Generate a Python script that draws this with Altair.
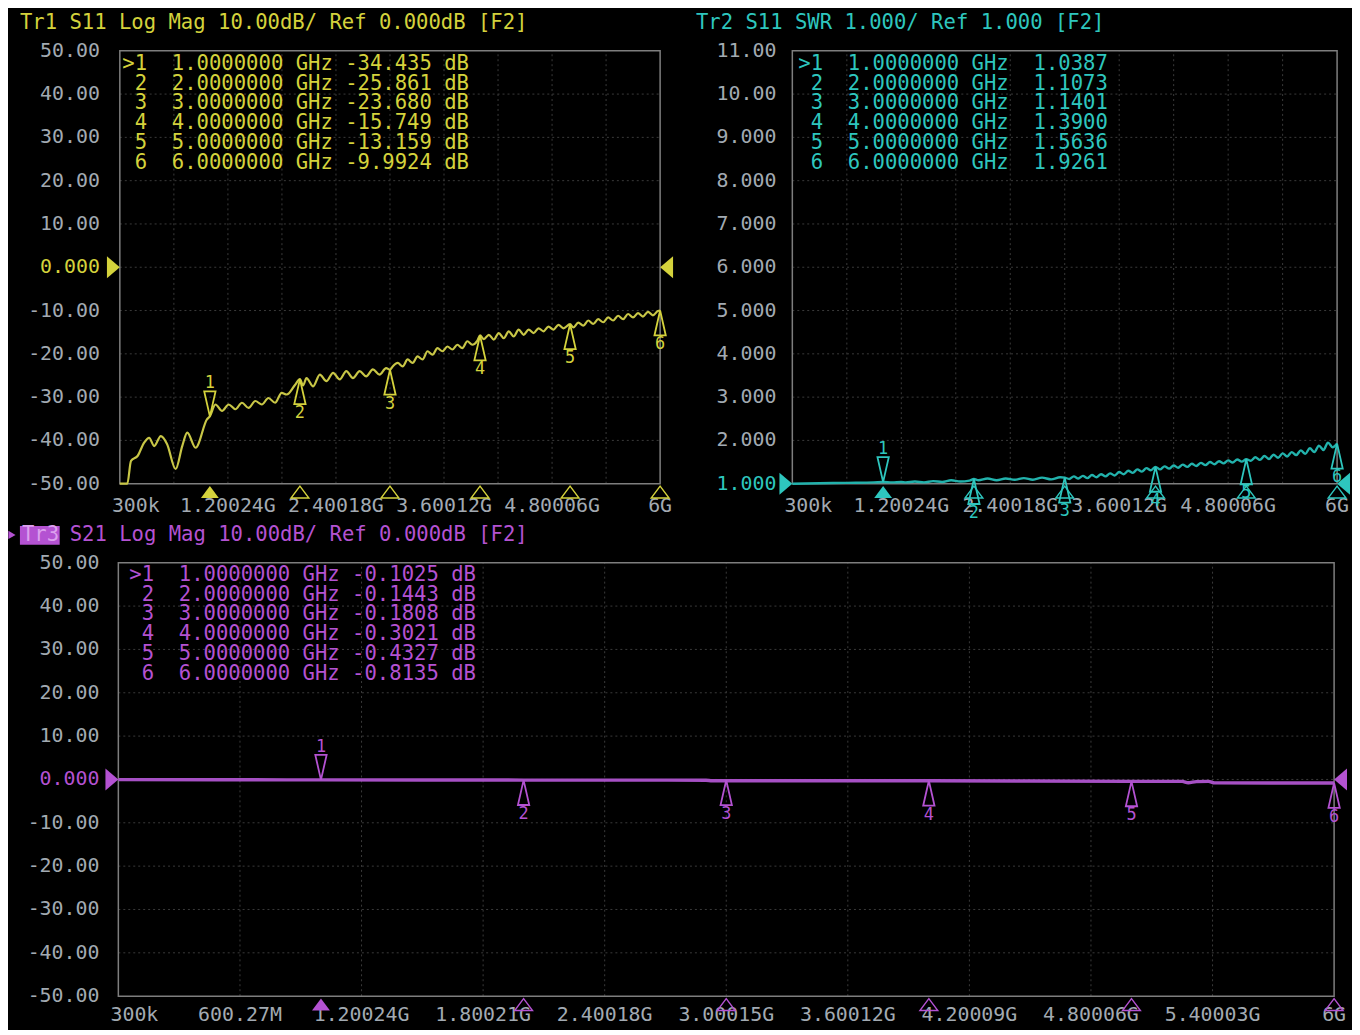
import altair as alt
import pandas as pd

# ---------------- data ----------------
# Tr1: S11 Log Mag trace (GHz, dB)
s11_freq_ghz = [0.0003, 0.083, 0.124, 0.197, 0.270, 0.326, 0.381, 0.455, 0.524, 0.620, 0.693, 0.749, 0.841, 0.969, 1.000,
                1.062, 1.135, 1.209, 1.283, 1.356, 1.430, 1.504, 1.577, 1.650, 1.724, 1.797, 1.853, 1.945, 2.000,
                2.035, 2.073, 2.147, 2.221, 2.294, 2.368, 2.442, 2.515, 2.589, 2.663, 2.736, 2.810, 2.884, 2.957, 3.000,
                3.030, 3.086, 3.141, 3.196, 3.251, 3.306, 3.362, 3.417, 3.472, 3.527, 3.583, 3.638, 3.693, 3.748, 3.803, 3.859, 3.914, 3.969, 4.000,
                4.043, 4.098, 4.153, 4.208, 4.264, 4.319, 4.374, 4.429, 4.485, 4.540, 4.595, 4.650, 4.705, 4.760, 4.816, 4.871, 4.926, 5.000,
                5.036, 5.091, 5.147, 5.202, 5.257, 5.312, 5.368, 5.423, 5.478, 5.533, 5.589, 5.644, 5.699, 5.754, 5.809, 5.865, 5.920, 5.975, 6.000]
s11_db = [-50.0, -50.0, -44.7, -43.6, -40.5, -39.4, -41.3, -39.0, -40.8, -46.6, -41.3, -38.2, -41.7, -35.1, -34.435,
          -31.7, -33.2, -31.7, -32.8, -31.3, -32.5, -30.9, -31.7, -30.2, -31.3, -29.0, -29.4, -27.2, -25.861,
          -27.3, -25.6, -27.5, -24.8, -26.3, -24.4, -25.9, -24.0, -25.6, -24.0, -25.2, -23.6, -24.8, -23.3, -23.68,
          -22.9, -22.1, -22.9, -21.3, -22.1, -20.6, -21.3, -19.4, -20.2, -18.7, -19.4, -18.3, -19.0, -17.9, -18.7, -17.1, -17.9, -17.0, -15.749,
          -16.6, -15.6, -16.7, -15.2, -16.4, -14.8, -16.0, -14.4, -15.6, -14.4, -15.2, -14.1, -14.8, -13.7, -14.4, -13.3, -14.1, -13.159,
          -13.9, -12.8, -13.5, -12.3, -13.1, -12.0, -12.7, -11.6, -12.3, -11.2, -12.0, -10.8, -11.6, -10.6, -11.4, -10.3, -11.1, -10.1, -9.9924]

# Tr2: S11 SWR trace (GHz, SWR)
swr_freq_ghz = [0.0003, 0.3, 0.6, 0.9, 1.0, 1.1, 1.2,
                1.25, 1.35, 1.45, 1.55, 1.65, 1.75, 1.85, 1.95, 2.00,
                2.05, 2.15, 2.25, 2.35, 2.45, 2.55, 2.65, 2.75, 2.85, 2.95, 3.00,
                3.05, 3.10, 3.15, 3.20, 3.25, 3.30, 3.35, 3.40, 3.45, 3.50, 3.55, 3.60, 3.65, 3.70, 3.75, 3.80, 3.85, 3.90, 3.95, 4.00,
                4.05, 4.10, 4.15, 4.20, 4.25, 4.30, 4.35, 4.40, 4.45, 4.50, 4.55, 4.60, 4.65, 4.70, 4.75, 4.80, 4.85, 4.90, 4.95, 5.00,
                5.05, 5.10, 5.15, 5.20, 5.25, 5.30, 5.35, 5.40, 5.45, 5.50, 5.55, 5.60, 5.65, 5.70, 5.75, 5.80, 5.85, 5.90, 5.95, 6.00]
swr_value = [1.00, 1.01, 1.02, 1.03, 1.0387, 1.03, 1.04,
             1.03, 1.05, 1.03, 1.06, 1.04, 1.08, 1.05, 1.07, 1.1073,
             1.08, 1.12, 1.08, 1.12, 1.09, 1.13, 1.09, 1.14, 1.10, 1.15, 1.1401,
             1.11, 1.17, 1.12, 1.18, 1.13, 1.20, 1.15, 1.22, 1.17, 1.24, 1.19, 1.27, 1.22, 1.30, 1.25, 1.33, 1.28, 1.36, 1.31, 1.39,
             1.33, 1.40, 1.35, 1.42, 1.37, 1.44, 1.39, 1.46, 1.41, 1.48, 1.43, 1.50, 1.45, 1.52, 1.47, 1.54, 1.49, 1.56, 1.51, 1.5636,
             1.53, 1.61, 1.55, 1.64, 1.57, 1.67, 1.60, 1.70, 1.63, 1.73, 1.66, 1.77, 1.69, 1.82, 1.73, 1.88, 1.78, 1.95, 1.84, 1.9261]

# Tr3: S21 Log Mag trace (GHz, dB)
s21_freq_ghz = [0.0003, 0.5, 1.0, 1.5, 2.0, 2.5, 2.9, 2.93, 3.5, 4.0, 4.5, 5.0, 5.25, 5.28, 5.32, 5.38, 5.41, 6.0]
s21_db = [-0.03, -0.07, -0.1025, -0.12, -0.1443, -0.16, -0.17, -0.30, -0.30, -0.3021, -0.36, -0.4327, -0.45, -0.75, -0.50, -0.45, -0.80, -0.8135]

# marker readouts
marker_ids = [1, 2, 3, 4, 5, 6]
marker_freq_ghz = [1.0, 2.0, 3.0, 4.0, 5.0, 6.0]
s11_marker_db = [-34.435, -25.861, -23.680, -15.749, -13.159, -9.9924]
swr_marker = [1.0387, 1.1073, 1.1401, 1.3900, 1.5636, 1.9261]
s21_marker_db = [-0.1025, -0.1443, -0.1808, -0.3021, -0.4327, -0.8135]

# axes
db_ticks = [50, 40, 30, 20, 10, 0, -10, -20, -30, -40, -50]
db_tick_labels = ["50.00", "40.00", "30.00", "20.00", "10.00", "0.000", "-10.00", "-20.00", "-30.00", "-40.00", "-50.00"]
swr_ticks = [11, 10, 9, 8, 7, 6, 5, 4, 3, 2, 1]
swr_tick_labels = ["11.00", "10.00", "9.000", "8.000", "7.000", "6.000", "5.000", "4.000", "3.000", "2.000", "1.000"]
top_x_ticks = [0.0003, 1.20024, 2.40018, 3.60012, 4.80006, 6.0]
top_x_labels = ["300k", "1.20024G", "2.40018G", "3.60012G", "4.80006G", "6G"]
bottom_x_ticks = [0.0003, 0.60027, 1.20024, 1.80021, 2.40018, 3.00015, 3.60012, 4.20009, 4.80006, 5.40003, 6.0]
bottom_x_labels = ["300k", "600.27M", "1.20024G", "1.80021G", "2.40018G", "3.00015G", "3.60012G", "4.20009G",
                   "4.80006G", "5.40003G", "6G"]

header_tr1 = "Tr1 S11 Log Mag 10.00dB/ Ref 0.000dB [F2]"
header_tr2 = "Tr2 S11 SWR 1.000/ Ref 1.000 [F2]"
header_tr3_tag = "Tr3"
header_tr3 = "S21 Log Mag 10.00dB/ Ref 0.000dB [F2]"

# ---------------- styles ----------------
FONT = "DejaVu Sans Mono"
FS_TXT = 20.7
GREY = "#a2aab2"
FRAME = "#7e7e7e"
GRID = "#3a3a3a"
YEL_T, YEL_L = "#d4d23c", "#c8c646"
CYA_T, CYA_L = "#2ec6be", "#22b2ac"
MAG_T, MAG_L = "#b452d2", "#a650c4"
NB = "\u00a0"
ZW = "\u200b"  # keeps the leading blank of a row from being trimmed

TRI_UP = "M0,0L-1,4.4L1,4.4Z"
TRI_DOWN = "M0,0L-1,-4.4L1,-4.4Z"
TRI_AXIS = "M0,0.4L-1.5,2.4L1.5,2.4Z"
REF_LEFT = "M0,0L-1,-0.85L-1,0.85Z"
REF_RIGHT = "M0,0L1,-0.85L1,0.85Z"


def readout_rows(vals, fmt, unit):
    rows = []
    for i, (m, f, v) in enumerate(zip(marker_ids, marker_freq_ghz, vals)):
        prefix = (">" if i == 0 else " ") + str(m)
        s = f"{prefix}  {f:.7f} GHz {fmt(v)}" + (f" {unit}" if unit else "")
        rows.append(ZW + s.replace(" ", NB))
    return rows


def build_panel(P):
    sx = alt.Scale(domain=[0, 6], range=P["xr"], nice=False, zero=False)
    sy = alt.Scale(domain=P["ydom"], range=P["yr"], nice=False, zero=False)

    def X(f):
        return alt.X(f, scale=sx, axis=None)

    def Y(f):
        return alt.Y(f, scale=sy, axis=None)

    ylo, yhi = P["ydom"]
    L = []
    gh = pd.DataFrame({"v": P["yticks"][1:-1]})
    gh["lo"] = 0.0
    gh["hi"] = 6.0
    L.append(alt.Chart(gh).mark_rule(color=GRID, strokeWidth=1, strokeDash=[2, 3])
             .encode(x=X("lo:Q"), x2="hi:Q", y=Y("v:Q")))
    gv = pd.DataFrame({"f": P["gridx"]})
    gv["lo"] = ylo
    gv["hi"] = yhi
    L.append(alt.Chart(gv).mark_rule(color=GRID, strokeWidth=1, strokeDash=[2, 3])
             .encode(x=X("f:Q"), y=Y("lo:Q"), y2="hi:Q"))
    fr = pd.DataFrame({"x0": [0.0], "x1": [6.0], "y0": [ylo], "y1": [yhi]})
    L.append(alt.Chart(fr).mark_rect(fillOpacity=0, stroke=FRAME, strokeWidth=1.5)
             .encode(x=X("x0:Q"), x2="x1:Q", y=Y("y0:Q"), y2="y1:Q"))

    tr = pd.DataFrame({"f": P["tf"], "v": P["tv"]})
    L.append(alt.Chart(tr).mark_line(color=P["lc"], strokeWidth=P["lw"], strokeJoin="round",
                                     interpolate="monotone", clip=False)
             .encode(x=X("f:Q"), y=Y("v:Q")))

    yl = pd.DataFrame({"v": P["yticks"], "label": P["ylabels"]})
    yl["x0"] = 0.0
    L.append(alt.Chart(yl).mark_text(align="right", baseline="middle", dx=P["ydx"], font=FONT, fontSize=20)
             .encode(x=X("x0:Q"), y=Y("v:Q"), text="label:N",
                     color=alt.condition(f"datum.v == {P['ref']}", alt.value(P["tc"]), alt.value(GREY))))

    xl = pd.DataFrame({"f": P["xticks"], "label": P["xlabels"]})
    xl["y0"] = ylo
    L.append(alt.Chart(xl.iloc[:1]).mark_text(align="left", baseline="middle", dx=-8, dy=P["xdy"],
                                               font=FONT, fontSize=20, color=GREY)
             .encode(x=X("f:Q"), y=Y("y0:Q"), text="label:N"))
    L.append(alt.Chart(xl.iloc[1:]).mark_text(align="center", baseline="middle", dy=P["xdy"],
                                               font=FONT, fontSize=20, color=GREY)
             .encode(x=X("f:Q"), y=Y("y0:Q"), text="label:N"))

    # reference level triangles
    rl = pd.DataFrame({"f": [0.0], "v": [P["ref"]]})
    rr = pd.DataFrame({"f": [6.0], "v": [P["ref"]]})
    L.append(alt.Chart(rl).mark_point(shape=REF_LEFT, filled=True, size=676, color=P["tc"], opacity=1)
             .encode(x=X("f:Q"), y=Y("v:Q")))
    L.append(alt.Chart(rr).mark_point(shape=REF_RIGHT, filled=True, size=676, color=P["tc"], opacity=1)
             .encode(x=X("f:Q"), y=Y("v:Q")))

    # markers on trace
    mk = pd.DataFrame({"id": [str(i) for i in marker_ids], "f": marker_freq_ghz, "v": P["mv"]})
    mk["y0"] = ylo
    L.append(alt.Chart(mk.iloc[:1]).mark_point(shape=TRI_DOWN, filled=False, size=130, color=P["tc"],
                                                strokeWidth=1.8, opacity=1)
             .encode(x=X("f:Q"), y=Y("v:Q")))
    L.append(alt.Chart(mk.iloc[1:]).mark_point(shape=TRI_UP, filled=False, size=130, color=P["tc"],
                                                strokeWidth=1.8, opacity=1)
             .encode(x=X("f:Q"), y=Y("v:Q")))
    L.append(alt.Chart(mk.iloc[:1]).mark_text(baseline="middle", dy=-33, font=FONT, fontSize=17, color=P["tc"])
             .encode(x=X("f:Q"), y=Y("v:Q"), text="id:N"))
    L.append(alt.Chart(mk.iloc[1:]).mark_text(baseline="middle", dy=34, font=FONT, fontSize=17, color=P["tc"])
             .encode(x=X("f:Q"), y=Y("v:Q"), text="id:N"))
    # markers on the frequency axis
    L.append(alt.Chart(mk.iloc[:1]).mark_point(shape=TRI_AXIS, filled=True, size=144, color=P["tc"], opacity=1)
             .encode(x=X("f:Q"), y=Y("y0:Q")))
    L.append(alt.Chart(mk.iloc[1:]).mark_point(shape=TRI_AXIS, filled=False, size=144, color=P["tc"],
                                                strokeWidth=1.4, opacity=1)
             .encode(x=X("f:Q"), y=Y("y0:Q")))

    # readout table
    tb = pd.DataFrame({"r": list(range(1, 7)), "t": P["rows"]})
    sr = alt.Scale(domain=[1, 6], range=P["rows_y"])
    L.append(alt.Chart(tb).mark_text(align="left", baseline="middle", font=FONT, fontSize=FS_TXT, color=P["tc"])
             .encode(x=alt.value(P["rows_x"]), y=alt.Y("r:Q", scale=sr, axis=None), text="t:N"))
    return L


panels = [
    dict(xr=[112.5, 656], yr=[475.5, 40], ydom=[-50, 50], ref=0, yticks=db_ticks, ylabels=db_tick_labels,
         xticks=top_x_ticks, xlabels=top_x_labels, gridx=bottom_x_ticks[1:-1], tf=s11_freq_ghz, tv=s11_db,
         mv=s11_marker_db, lc=YEL_L, tc=YEL_T, lw=2.2, ydx=-20, xdy=22,
         rows=readout_rows(s11_marker_db, lambda v: f"{v:#.5g}", "dB"), rows_x=115, rows_y=[53, 153]),
    dict(xr=[789, 1337], yr=[475.5, 40], ydom=[1, 11], ref=1, yticks=swr_ticks, ylabels=swr_tick_labels,
         xticks=top_x_ticks, xlabels=top_x_labels, gridx=bottom_x_ticks[1:-1], tf=swr_freq_ghz, tv=swr_value,
         mv=swr_marker, lc=CYA_L, tc=CYA_T, lw=2.4, ydx=-16, xdy=22,
         rows=readout_rows(swr_marker, lambda v: f" {v:.4f}", ""), rows_x=795, rows_y=[53, 153]),
    dict(xr=[111, 1334], yr=[991, 555], ydom=[-50, 50], ref=0, yticks=db_ticks, ylabels=db_tick_labels,
         xticks=bottom_x_ticks, xlabels=bottom_x_labels, gridx=bottom_x_ticks[1:-1], tf=s21_freq_ghz, tv=s21_db,
         mv=s21_marker_db, lc=MAG_L, tc=MAG_T, lw=3.4, ydx=-19, xdy=19,
         rows=readout_rows(s21_marker_db, lambda v: f"{v:.4f}", "dB"), rows_x=122, rows_y=[567, 667]),
]

layers = []
for P in panels:
    layers += build_panel(P)

one = pd.DataFrame({"t": [""]})
layers.append(alt.Chart(pd.DataFrame({"t": [header_tr1]})).mark_text(
    align="left", baseline="middle", font=FONT, fontSize=FS_TXT, color=YEL_T)
    .encode(x=alt.value(12), y=alt.value(12), text="t:N"))
layers.append(alt.Chart(pd.DataFrame({"t": [header_tr2]})).mark_text(
    align="left", baseline="middle", font=FONT, fontSize=FS_TXT, color=CYA_T)
    .encode(x=alt.value(692), y=alt.value(12), text="t:N"))
layers.append(alt.Chart(one).mark_rect(color=MAG_T, opacity=1)
              .encode(x=alt.value(12), x2=alt.value(52), y=alt.value(518), y2=alt.value(537)))
layers.append(alt.Chart(one).mark_point(shape="triangle-right", filled=True, size=70, color=MAG_T, opacity=1)
              .encode(x=alt.value(4), y=alt.value(527)))
layers.append(alt.Chart(pd.DataFrame({"t": [header_tr3_tag]})).mark_text(
    align="left", baseline="middle", font=FONT, fontSize=FS_TXT, color="#dca0ee")
    .encode(x=alt.value(14), y=alt.value(527), text="t:N"))
layers.append(alt.Chart(pd.DataFrame({"t": [header_tr3]})).mark_text(
    align="left", baseline="middle", font=FONT, fontSize=FS_TXT, color=MAG_T)
    .encode(x=alt.value(62), y=alt.value(527), text="t:N"))

chart = (
    alt.layer(*layers)
    .resolve_scale(x="independent", y="independent")
    .properties(width=1352, height=1022, padding=0, autosize=alt.AutoSizeParams(type="none"))
    .configure(background="#000000")
    .configure_view(strokeWidth=0)
)

chart.save("out.html", embed_options={"renderer": "svg", "actions": False})
